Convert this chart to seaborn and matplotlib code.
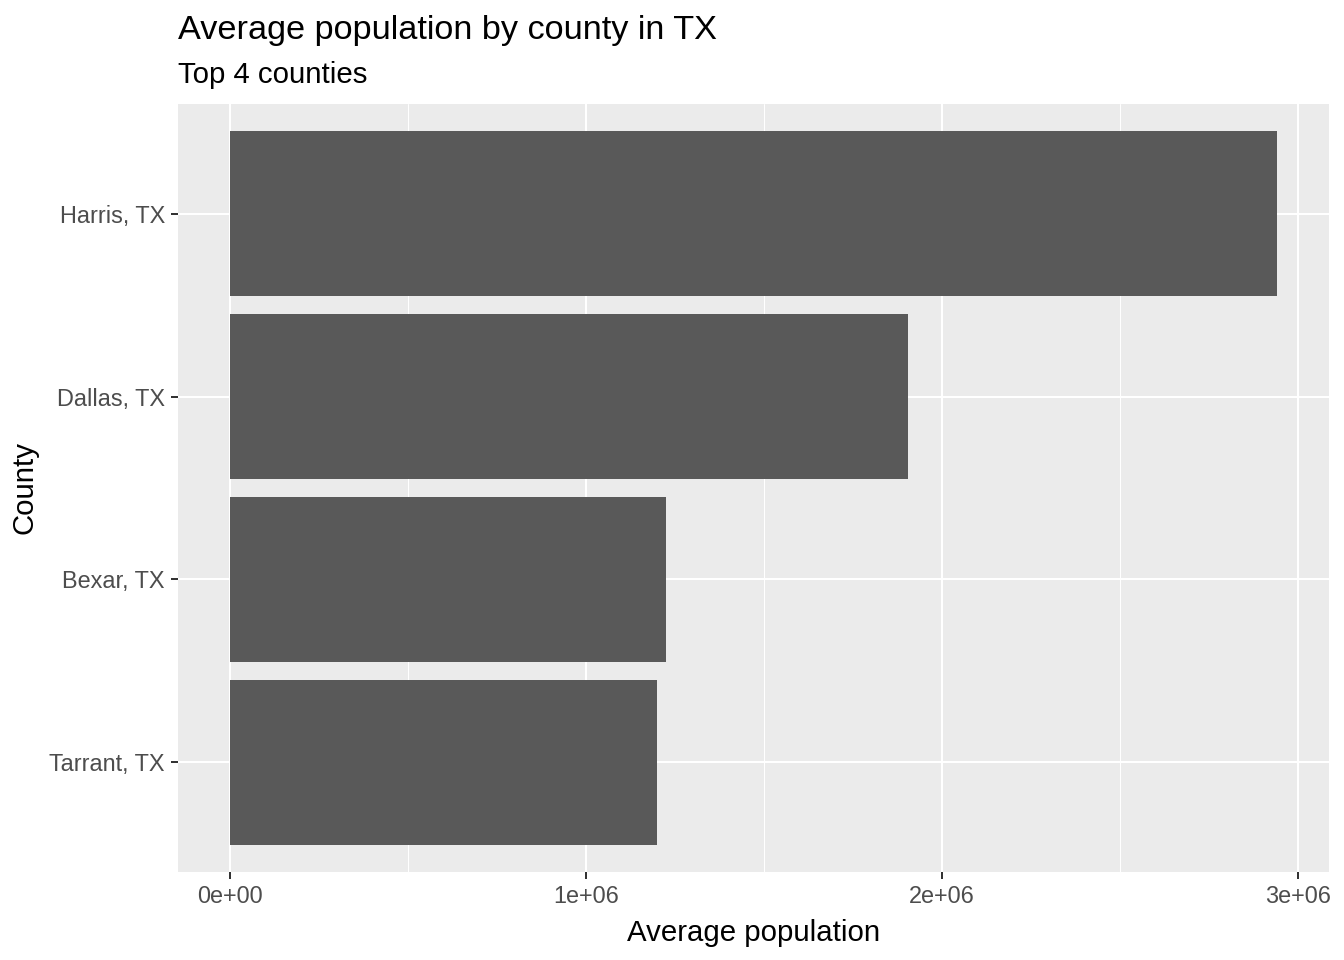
import numpy as np
import pandas as pd
import matplotlib
matplotlib.use("Agg")
import matplotlib.pyplot as plt
import seaborn as sns

# ---- data ----
counties = ["Harris, TX", "Dallas, TX", "Bexar, TX", "Tarrant, TX"]
avg_pop = [2941000, 1904000, 1225000, 1199000]
x_ticks = [0, 1e6, 2e6, 3e6]
x_tick_labels = ["0e+00", "1e+06", "2e+06", "3e+06"]
x_minor = [0.5e6, 1.5e6, 2.5e6]

df = pd.DataFrame({"County": counties, "Average population": avg_pop})

sns.set_theme(style="white")
plt.rcParams["font.family"] = ["Liberation Sans", "DejaVu Sans"]

fig = plt.figure(figsize=(7, 5), dpi=192)
W, H = 1344, 960
ax = fig.add_axes([178 / W, 1 - 872 / H, (1329 - 178) / W, (872 - 104) / H])
ax.set_facecolor("#EBEBEB")

sns.barplot(data=df, x="Average population", y="County", order=counties,
            orient="h", color="#595959", saturation=1, width=0.9, ax=ax,
            linewidth=0, edgecolor="none", zorder=3)

# ggplot-like grid
ax.set_axisbelow(True)
for v in x_ticks:
    ax.axvline(v, color="white", lw=0.75, zorder=1)
for v in x_minor:
    ax.axvline(v, color="white", lw=0.38, zorder=1)
for i in range(len(counties)):
    ax.axhline(i, color="white", lw=0.75, zorder=1)

ax.set_xlim(-0.146e6, 3.087e6)
ax.set_ylim(3.6, -0.6)
ax.set_xticks(x_ticks)
ax.set_xticklabels(x_tick_labels)

for s in ax.spines.values():
    s.set_visible(False)

ax.tick_params(axis="both", length=2.75, width=0.75, color="#333333",
               labelcolor="#4D4D4D", labelsize=8.8, pad=2.2,
               bottom=True, left=True)

ax.set_xlabel("Average population", fontsize=11, color="black", labelpad=4)
ax.set_ylabel("County", fontsize=11, color="black", labelpad=4)

fig.text(178 / W, 1 - 30 / H, "Average population by county in TX",
         fontsize=12.85, ha="left", va="center", color="black")
fig.text(178 / W, 1 - 75 / H, "Top 4 counties",
         fontsize=11, ha="left", va="center", color="black")

fig.savefig("out.png", dpi=192)
